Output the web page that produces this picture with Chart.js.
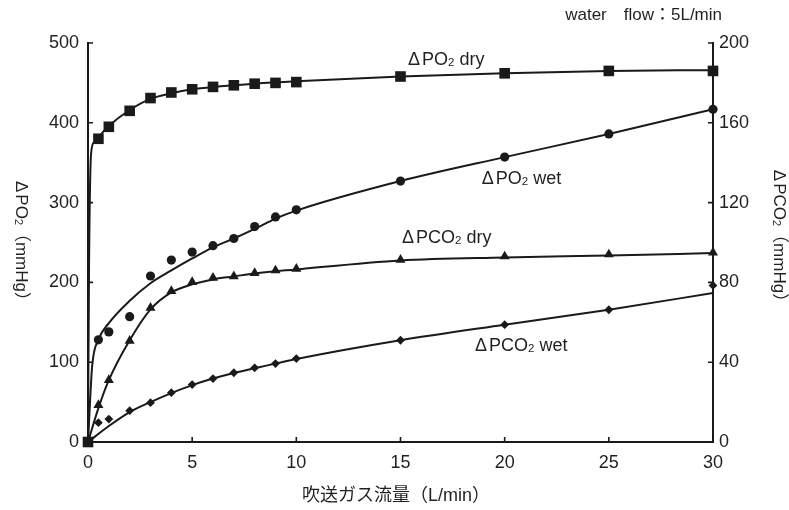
<!DOCTYPE html>
<html lang="ja">
<head>
  <meta charset="UTF-8" />
  <title>吹送ガス流量とΔPO2・ΔPCO2</title>
  <script src="https://cdn.jsdelivr.net/npm/chart.js"></script>
  <style>
    body {
      margin: 0;
      background: #ffffff;
    }
    #chart-box {
      width: 789px;
      height: 510px;
    }
  </style>
</head>
<body>
  <div id="chart-box">
    <canvas id="gasChart" width="789" height="510"></canvas>
  </div>

  <script>
    // measured points (x = gas flow, L/min)
    const flow = [0, 0.5, 1, 2, 3, 4, 5, 6, 7, 8, 9, 10, 15, 20, 25, 30];
    const po2Dry = [0, 380, 395, 415, 431, 438, 442, 445, 447, 449, 450, 451, 458, 462, 465, 465];
    const po2Wet = [0, 128, 138, 157, 208, 228, 238, 246, 255, 270, 282, 291, 327, 357, 386, 417];
    const pco2Dry = [0, 18.5, 31, 50.7, 67.3, 75.7, 80.2, 82.3, 83, 84.7, 86, 86.8, 91.3, 93, 94, 95];
    const pco2Wet = [0, 9.7, 11.5, 15.7, 19.7, 24.7, 28.8, 31.8, 34.7, 37.2, 39.3, 41.8, 51, 58.8, 66.3, 78.5];

    // fitted curves
    const po2DryFitX = [0, 0.05, 0.15, 0.3, 0.5, 1, 2, 3, 4, 5, 6, 8, 10, 15, 20, 25, 30];
    const po2DryFit = [0, 220, 362, 376, 382, 396, 416, 430, 437, 442, 445, 449, 452, 458, 462, 465, 466];
    const po2WetFitX = [0, 0.2, 0.5, 1, 2, 3, 4, 5, 6, 7, 8, 9, 10, 15, 20, 25, 30];
    const po2WetFit = [0, 95, 128, 149, 177, 199, 215, 230, 244, 255, 267, 280, 290, 327, 357, 386, 417];
    const pco2DryFitX = [0, 0.5, 1, 2, 3, 4, 5, 6, 7, 8, 10, 15, 20, 25, 30];
    const pco2DryFit = [0, 17, 31, 51, 66.5, 75, 79, 81.5, 83, 84.5, 86.5, 91, 92.5, 93.5, 94.7];
    const pco2WetFitX = [0, 1, 2, 3, 4, 5, 6, 7, 8, 9, 10, 15, 20, 25, 30];
    const pco2WetFit = [0, 8, 15, 20, 24.5, 28.5, 31.8, 34.6, 37, 39.3, 41.6, 51, 58.8, 66.3, 74.7];

    const xTicks = [0, 5, 10, 15, 20, 25, 30];
    const leftTicks = [0, 100, 200, 300, 400, 500];
    const rightTicks = [0, 40, 80, 120, 160, 200];

    const FONT = '"Liberation Sans", "Noto Sans CJK JP", sans-serif';
    const INK = '#231f20';
    const LINE = '#1a1a1a';

    const pts = (xs, ys) => xs.map((v, i) => ({ x: v, y: ys[i] }));

    // text with small "2" subscripts; parts = [text, isSub, extraGapAfter]
    function drawRich(ctx, parts, x, baseline, size, align) {
      const widths = parts.map(([t, sub, gap]) => {
        ctx.font = (sub ? size * 0.64 : size) + 'px ' + FONT;
        return ctx.measureText(t).width + (gap || 0);
      });
      const total = widths.reduce((a, b) => a + b, 0);
      let cx = align === 'center' ? x - total / 2 : align === 'right' ? x - total : x;
      ctx.textAlign = 'left';
      ctx.textBaseline = 'alphabetic';
      parts.forEach(([t, sub], i) => {
        ctx.font = (sub ? size * 0.64 : size) + 'px ' + FONT;
        ctx.fillText(t, cx, baseline + (sub ? size * 0.06 : 0));
        cx += widths[i];
      });
    }

    const decorations = {
      id: 'decorations',
      afterDraw(chart) {
        const { ctx, chartArea: a, scales: { x, y, y2 } } = chart;
        ctx.save();

        // inward tick marks
        ctx.strokeStyle = LINE;
        ctx.lineWidth = 1.6;
        ctx.beginPath();
        xTicks.forEach(v => {
          const px = x.getPixelForValue(v);
          ctx.moveTo(px, a.bottom);
          ctx.lineTo(px, a.bottom - 5);
        });
        leftTicks.forEach(v => {
          const py = y.getPixelForValue(v);
          ctx.moveTo(a.left, py);
          ctx.lineTo(a.left + 5, py);
        });
        rightTicks.forEach(v => {
          const py = y2.getPixelForValue(v);
          ctx.moveTo(a.right, py);
          ctx.lineTo(a.right - 5, py);
        });
        ctx.stroke();

        ctx.fillStyle = INK;

        // curve labels
        const s = 18, b = s * 0.358;
        drawRich(ctx, [['Δ', 0, 2], ['PO'], ['2', 1], [' dry']],
          x.getPixelForValue(15.36), y.getPixelForValue(481) + b, s, 'left');
        drawRich(ctx, [['Δ', 0, 2], ['PO'], ['2', 1], [' wet']],
          x.getPixelForValue(18.9), y.getPixelForValue(331) + b, s, 'left');
        drawRich(ctx, [['Δ', 0, 2], ['PCO'], ['2', 1], [' dry']],
          x.getPixelForValue(15.07), y.getPixelForValue(257) + b, s, 'left');
        drawRich(ctx, [['Δ', 0, 2], ['PCO'], ['2', 1], [' wet']],
          x.getPixelForValue(18.58), y.getPixelForValue(121.6) + b, s, 'left');

        // note top right
        drawRich(ctx, [['water\u3000flow：5L/min']], 722, 20, 17, 'right');

        // x title
        drawRich(ctx, [['吹送ガス流量（L/min）']], 396, 501, 18, 'center');

        // y titles, rotated clockwise
        const t = 17;
        ctx.save();
        ctx.translate(22, 245);
        ctx.rotate(Math.PI / 2);
        drawRich(ctx, [['Δ', 0, 2], ['PO'], ['2', 1], ['（mmHg）']], 0, t * 0.358, t, 'center');
        ctx.restore();

        ctx.save();
        ctx.translate(780, 240);
        ctx.rotate(Math.PI / 2);
        drawRich(ctx, [['Δ', 0, 2], ['PCO'], ['2', 1], ['（mmHg）']], 0, t * 0.358, t, 'center');
        ctx.restore();

        ctx.restore();
      }
    };

    const marker = (data, style, radius, axis) => ({
      data: data,
      yAxisID: axis,
      showLine: false,
      pointStyle: style,
      pointRadius: radius,
      pointBackgroundColor: LINE,
      pointBorderWidth: 0,
      clip: false
    });

    const curve = (data, axis) => ({
      data: data,
      yAxisID: axis,
      showLine: true,
      borderColor: LINE,
      borderWidth: 2,
      pointRadius: 0,
      cubicInterpolationMode: 'monotone',
      clip: false
    });

    const tickFont = { family: FONT, size: 18 };

    new Chart(document.getElementById('gasChart'), {
      type: 'scatter',
      data: {
        datasets: [
          marker(pts(flow, po2Dry), 'rect', 7.5, 'y'),
          marker(pts(flow, po2Wet), 'circle', 4.6, 'y'),
          marker(pts(flow, pco2Dry), 'triangle', 5.8, 'y2'),
          marker(pts(flow, pco2Wet), 'rectRot', 4.4, 'y2'),
          curve(pts(po2DryFitX, po2DryFit), 'y'),
          curve(pts(po2WetFitX, po2WetFit), 'y'),
          curve(pts(pco2DryFitX, pco2DryFit), 'y2'),
          curve(pts(pco2WetFitX, pco2WetFit), 'y2')
        ]
      },
      options: {
        responsive: false,
        animation: false,
        devicePixelRatio: 1,
        layout: { padding: { top: 43, left: 0, right: 0, bottom: 0 } },
        plugins: {
          legend: { display: false },
          tooltip: { enabled: false }
        },
        scales: {
          x: {
            type: 'linear',
            min: 0,
            max: 30,
            afterBuildTicks: s => { s.ticks = xTicks.map(v => ({ value: v })); },
            afterFit: s => { s.height = 68; },
            ticks: { font: tickFont, color: INK, padding: 10, maxRotation: 0 },
            grid: { display: false, drawTicks: false },
            border: { display: true, color: LINE, width: 2 }
          },
          y: {
            type: 'linear',
            position: 'left',
            min: 0,
            max: 500,
            afterBuildTicks: s => { s.ticks = leftTicks.map(v => ({ value: v })); },
            afterFit: s => { s.width = 88; },
            ticks: { font: tickFont, color: INK, padding: 9 },
            grid: { display: false, drawTicks: false },
            border: { display: true, color: LINE, width: 2 }
          },
          y2: {
            type: 'linear',
            position: 'right',
            min: 0,
            max: 200,
            afterBuildTicks: s => { s.ticks = rightTicks.map(v => ({ value: v })); },
            afterFit: s => { s.width = 76; },
            ticks: { font: tickFont, color: INK, padding: 6 },
            grid: { display: false, drawTicks: false },
            border: { display: true, color: LINE, width: 2 }
          }
        }
      },
      plugins: [decorations]
    });
  </script>
</body>
</html>
